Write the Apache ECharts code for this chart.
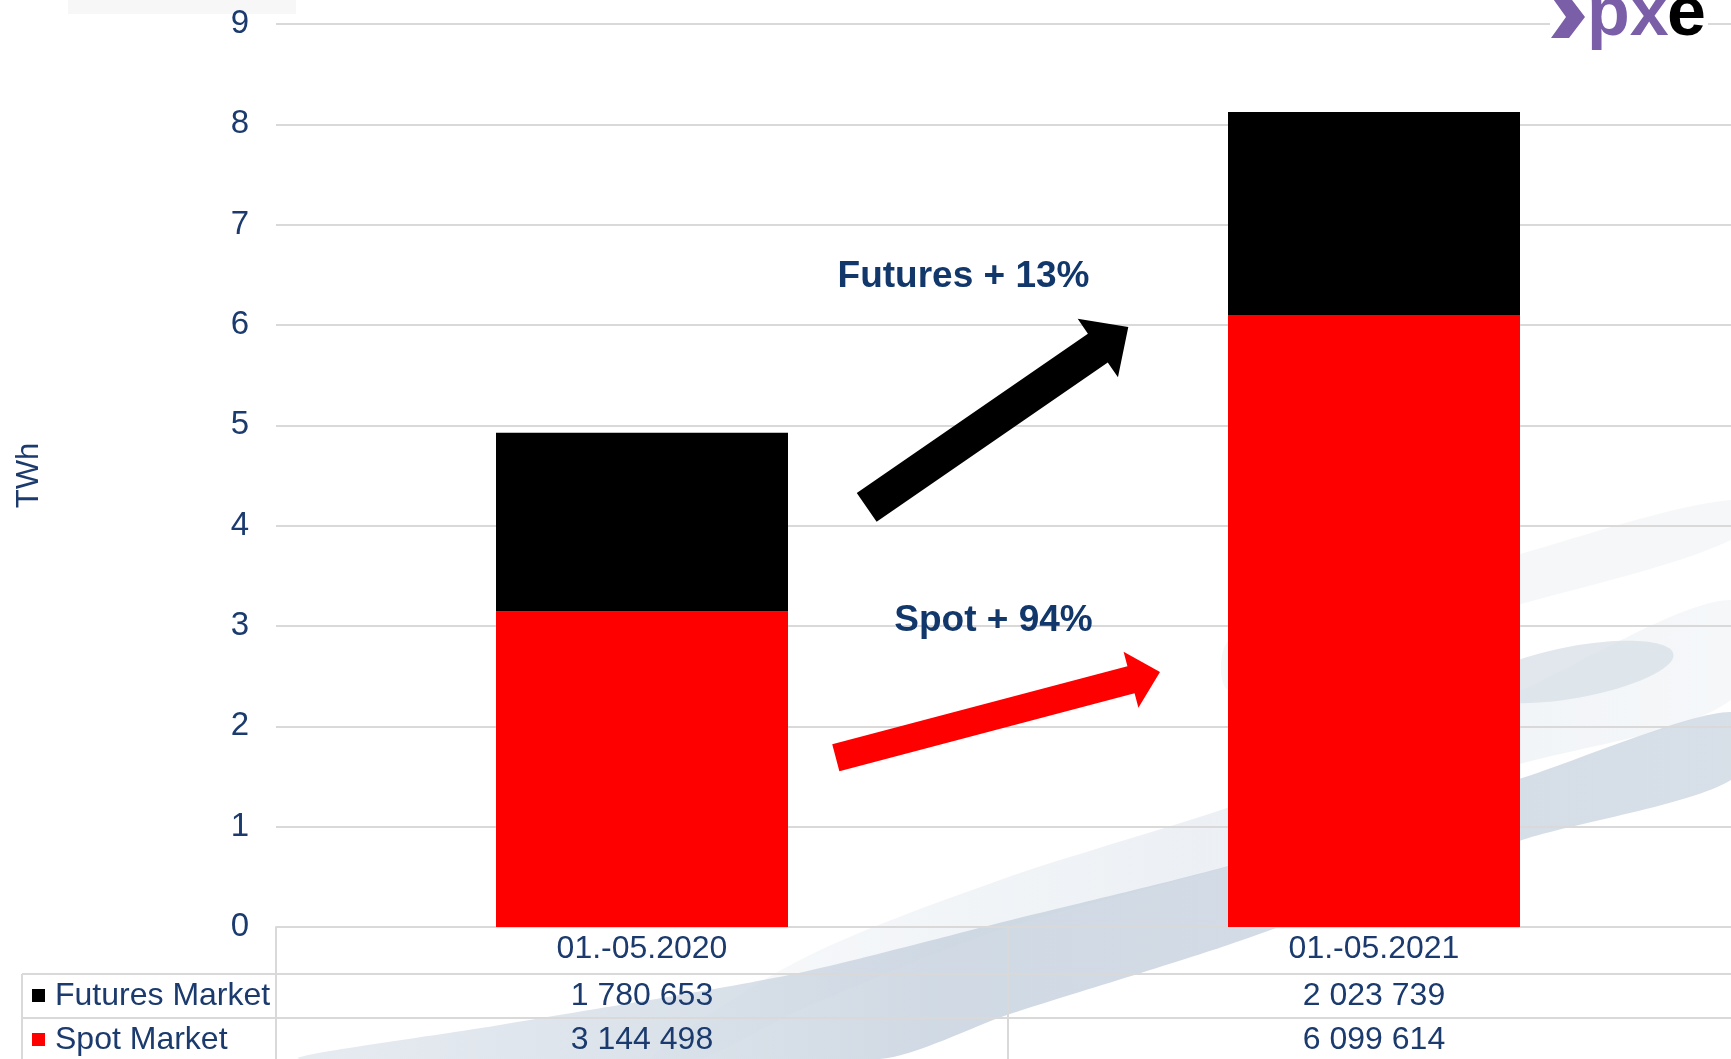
<!DOCTYPE html>
<html>
<head>
<meta charset="utf-8">
<script src="https://cdn.jsdelivr.net/npm/echarts@6/dist/echarts.min.js"></script>
<style>
html,body{margin:0;padding:0;background:#fff;}
#main{width:1731px;height:1059px;}
</style>
</head>
<body>
<div id="main"></div>
<script>
// ---- data ----
var categories = ['01.-05.2020', '01.-05.2021'];
var futuresMWh = [1780653, 2023739];
var spotMWh = [3144498, 6099614];
var seriesNames = ['Futures Market', 'Spot Market'];
var yTicks = [0, 1, 2, 3, 4, 5, 6, 7, 8, 9];
var annotations = ['Futures + 13%', 'Spot + 94%'];
var logoText = ['px', 'e'];

var NAVY = '#1b3a6d';
var GRID = '#d9d9d9';
var FONT = '"Liberation Sans", Arial, sans-serif';

function toTWh(v) { return v / 1e6; }
function fmt(v) { return String(v).replace(/\B(?=(\d{3})+(?!\d))/g, ' '); }

var chart = echarts.init(document.getElementById('main'), null, { renderer: 'canvas' });

var option = {
  backgroundColor: '#ffffff',
  animation: false,
  grid: { left: 276, right: -9, top: 24, bottom: 132, containLabel: false, outerBoundsMode: 'none' },
  xAxis: {
    type: 'category',
    data: categories,
    axisLine: { show: true, lineStyle: { color: GRID, width: 2 } },
    axisTick: { show: false },
    axisLabel: { color: NAVY, fontFamily: FONT, fontSize: 32, margin: 6, lineHeight: 32 },
    splitLine: { show: false }
  },
  yAxis: {
    type: 'value',
    min: yTicks[0],
    max: yTicks[yTicks.length - 1],
    interval: 1,
    name: 'TWh',
    nameLocation: 'middle',
    nameRotate: 90,
    nameGap: 231,
    nameTextStyle: { color: NAVY, fontFamily: FONT, fontSize: 31 },
    axisLine: { show: false },
    axisTick: { show: false },
    axisLabel: { color: NAVY, fontFamily: FONT, fontSize: 33, margin: 27 },
    splitLine: { show: true, lineStyle: { color: GRID, width: 2 } }
  },
  series: [
    {
      name: seriesNames[1],
      type: 'bar',
      stack: 'total',
      barWidth: 292,
      itemStyle: { color: '#ff0000' },
      data: spotMWh.map(toTWh)
    },
    {
      name: seriesNames[0],
      type: 'bar',
      stack: 'total',
      barWidth: 292,
      itemStyle: { color: '#000000' },
      data: futuresMWh.map(toTWh)
    }
  ]
};
chart.setOption(option);

// ---- decorations / table ----
function arrowPoints(tail, tip, shaftHalf, headHalf, headLen) {
  var dx = tip[0] - tail[0], dy = tip[1] - tail[1];
  var len = Math.sqrt(dx * dx + dy * dy);
  var ux = dx / len, uy = dy / len;
  var nx = -uy, ny = ux;
  var bx = tip[0] - ux * headLen, by = tip[1] - uy * headLen;
  return [
    [tail[0] + nx * shaftHalf, tail[1] + ny * shaftHalf],
    [bx + nx * shaftHalf, by + ny * shaftHalf],
    [bx + nx * headHalf, by + ny * headHalf],
    [tip[0], tip[1]],
    [bx - nx * headHalf, by - ny * headHalf],
    [bx - nx * shaftHalf, by - ny * shaftHalf],
    [tail[0] - nx * shaftHalf, tail[1] - ny * shaftHalf]
  ];
}

var c0 = chart.convertToPixel({ xAxisIndex: 0 }, categories[0]);
var c1 = chart.convertToPixel({ xAxisIndex: 0 }, categories[1]);
var axisY = chart.convertToPixel({ yAxisIndex: 0 }, 0);
var gridLeft = 276;
var W = 1731, H = 1059;
var row1 = 974, row2 = 1018;
var mid = (c0 + c1) / 2;

var g = [];
// background swoosh (decoration)
g.push({
  type: 'polygon', z: -10, silent: true,
  shape: { points: [[650, 1059], [800, 960], [1000, 880], [1250, 800], [1500, 700], [1731, 600], [1731, 700], [1500, 770], [1250, 860], [1000, 930], [800, 1010], [700, 1059]], smooth: 0.3 },
  style: {
    fill: new echarts.graphic.LinearGradient(0, 0, 1, 0, [
      { offset: 0, color: 'rgba(232,237,242,0.3)' },
      { offset: 0.5, color: 'rgba(228,234,240,0.7)' },
      { offset: 1, color: 'rgba(236,240,244,0.5)' }
    ])
  }
});
g.push({
  type: 'ellipse', z: -10, silent: true, x: 1575, y: 672, rotation: 0.18,
  shape: { cx: 0, cy: 0, rx: 100, ry: 26 },
  style: { fill: 'rgba(215,223,231,0.75)' }
});
g.push({
  type: 'polygon', z: -10, silent: true,
  shape: { points: [[1230, 640], [1500, 560], [1731, 500], [1731, 540], [1500, 610], [1230, 690]], smooth: 0.3 },
  style: { fill: 'rgba(238,241,245,0.6)' }
});
g.push({
  type: 'polygon', z: -9, silent: true,
  shape: { points: [[300, 1059], [500, 1025], [789, 975], [1007, 921], [1228, 866], [1522, 778], [1731, 712], [1731, 780], [1522, 840], [1228, 945], [1007, 1015], [880, 1059]], smooth: 0.25 },
  style: {
    fill: new echarts.graphic.LinearGradient(0, 0, 1, 0, [
      { offset: 0, color: 'rgba(220,227,235,0.7)' },
      { offset: 0.45, color: 'rgba(200,211,223,0.85)' },
      { offset: 1, color: 'rgba(205,215,226,0.8)' }
    ])
  }
});
g.push({
  type: 'rect', z: -10, silent: true,
  shape: { x: 68, y: 0, width: 228, height: 14 },
  style: { fill: '#f7f7f7' }
});

// table lines
var lineStyle = { stroke: GRID, lineWidth: 2 };
g.push({ type: 'line', shape: { x1: 22, y1: row1, x2: W, y2: row1 }, style: lineStyle, silent: true });
g.push({ type: 'line', shape: { x1: 22, y1: row2, x2: W, y2: row2 }, style: lineStyle, silent: true });
g.push({ type: 'line', shape: { x1: gridLeft, y1: axisY, x2: gridLeft, y2: H }, style: lineStyle, silent: true });
g.push({ type: 'line', shape: { x1: mid, y1: axisY, x2: mid, y2: H }, style: lineStyle, silent: true });
g.push({ type: 'line', shape: { x1: 22, y1: row1, x2: 22, y2: H }, style: lineStyle, silent: true });

// legend keys + row labels
var rowY = [996, 1040];
var rowColors = ['#000000', '#ff0000'];
var rowData = [futuresMWh, spotMWh];
for (var r = 0; r < 2; r++) {
  g.push({ type: 'rect', shape: { x: 32, y: rowY[r] - 7, width: 13, height: 13 }, style: { fill: rowColors[r] }, silent: true });
  g.push({ type: 'text', x: 55, y: rowY[r], style: { text: seriesNames[r], fill: NAVY, font: '32px ' + FONT, textAlign: 'left', textVerticalAlign: 'middle' }, silent: true });
  var cs = [c0, c1];
  for (var k = 0; k < 2; k++) {
    g.push({ type: 'text', x: cs[k], y: rowY[r], style: { text: fmt(rowData[r][k]), fill: NAVY, font: '32px ' + FONT, textAlign: 'center', textVerticalAlign: 'middle' }, silent: true });
  }
}

// arrows
g.push({ type: 'polygon', z: 10, silent: true, shape: { points: arrowPoints([866.7, 507.3], [1128.3, 327.1], 17.5, 35.5, 37) }, style: { fill: '#000000' } });
g.push({ type: 'polygon', z: 10, silent: true, shape: { points: arrowPoints([835.8, 757.7], [1160, 672.1], 14, 29, 30) }, style: { fill: '#ff0000' } });

// annotation text
g.push({ type: 'text', z: 10, x: 963.5, y: 277, style: { text: annotations[0], fill: '#12386b', font: 'bold 37px ' + FONT, textAlign: 'center', textVerticalAlign: 'middle' }, silent: true });
g.push({ type: 'text', z: 10, x: 993.5, y: 621, style: { text: annotations[1], fill: '#12386b', font: 'bold 37px ' + FONT, textAlign: 'center', textVerticalAlign: 'middle' }, silent: true });

// logo
g.push({ type: 'rect', z: 9, silent: true, shape: { x: 1550, y: 0, width: 158, height: 40 }, style: { fill: '#ffffff' } });
g.push({ type: 'polygon', z: 10, silent: true, shape: { points: [[1551, -4], [1569, -4], [1585, 17], [1569, 38], [1551, 38], [1566, 17]] }, style: { fill: '#7a5ea8' } });
g.push({ type: 'text', z: 10, x: 1587, y: -19, style: { text: logoText[0], fill: '#7a5ea8', font: 'bold 70px ' + FONT, textAlign: 'left', textVerticalAlign: 'alphabetic' }, silent: true });
g.push({ type: 'text', z: 10, x: 1667, y: -19, style: { text: logoText[1], fill: '#000000', font: 'bold 70px ' + FONT, textAlign: 'left', textVerticalAlign: 'alphabetic' }, silent: true });

chart.setOption({ graphic: { elements: g } });
</script>
</body>
</html>
